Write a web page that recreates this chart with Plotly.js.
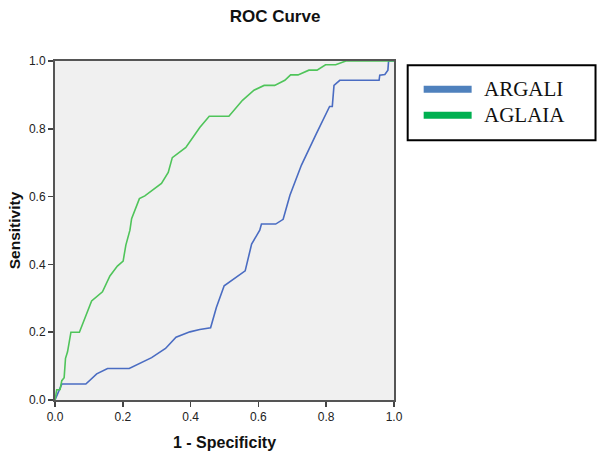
<!DOCTYPE html>
<html>
<head>
<meta charset="utf-8">
<script src="https://cdn.plot.ly/plotly-3.0.1.min.js"></script>
<style>html,body{margin:0;padding:0;background:#fff;}#chart{width:597px;height:451px;}</style>
</head>
<body>
<div id="chart"></div>
<script>
// ARGALI ROC points (1 - Specificity, Sensitivity)
const argaliX = [0, 0.02, 0.091, 0.123, 0.155, 0.219, 0.285, 0.326, 0.357, 0.398, 0.427, 0.459, 0.476, 0.499, 0.561, 0.58, 0.604, 0.609, 0.651, 0.673, 0.693, 0.727, 0.771, 0.81, 0.818, 0.823, 0.84, 0.956, 0.958, 0.973, 0.982, 0.984, 1.0];
const argaliY = [0, 0.047, 0.047, 0.077, 0.093, 0.093, 0.125, 0.152, 0.185, 0.201, 0.208, 0.213, 0.273, 0.337, 0.381, 0.46, 0.501, 0.519, 0.519, 0.533, 0.604, 0.693, 0.786, 0.866, 0.866, 0.928, 0.943, 0.943, 0.958, 0.96, 0.973, 1.0, 1.0];
// AGLAIA ROC points
const aglaiaX = [0, 0.005, 0.015, 0.02, 0.027, 0.031, 0.037, 0.047, 0.072, 0.108, 0.14, 0.162, 0.184, 0.201, 0.209, 0.221, 0.226, 0.249, 0.265, 0.314, 0.334, 0.346, 0.386, 0.427, 0.455, 0.513, 0.553, 0.587, 0.617, 0.648, 0.678, 0.695, 0.717, 0.749, 0.773, 0.798, 0.828, 0.858, 1.0];
const aglaiaY = [0, 0.03, 0.031, 0.057, 0.066, 0.123, 0.142, 0.2, 0.2, 0.292, 0.319, 0.366, 0.395, 0.41, 0.457, 0.501, 0.535, 0.594, 0.602, 0.639, 0.671, 0.715, 0.745, 0.804, 0.837, 0.837, 0.884, 0.914, 0.928, 0.928, 0.943, 0.959, 0.959, 0.973, 0.973, 0.989, 0.989, 1.0, 1.0];
const seriesNames = ['ARGALI', 'AGLAIA'];
const tickVals = [0, 0.2, 0.4, 0.6, 0.8, 1.0];
const tickText = ['0.0', '0.2', '0.4', '0.6', '0.8', '1.0'];

const lineBlue = '#4a6cc2';
const lineGreen = '#4fc45a';
const legBlue = '#4f81bd';
const legGreen = '#00b050';

const traces = [
  {x: argaliX, y: argaliY, type: 'scatter', mode: 'lines', name: seriesNames[0],
   line: {color: lineBlue, width: 1.6}, showlegend: false, cliponaxis: true},
  {x: aglaiaX, y: aglaiaY, type: 'scatter', mode: 'lines', name: seriesNames[1],
   line: {color: lineGreen, width: 1.6}, showlegend: false, cliponaxis: true}
];

// legend drawn in paper coordinates (plot area: x 55..394.3 px, y 61..400 px)
const L = 55, R = 394.3, T = 60.7, B = 400;
const px = v => (v - L) / (R - L);
const py = v => (B - v) / (B - T);

const axisCommon = {
  range: [0, 1], tickvals: tickVals, ticktext: tickText,
  ticks: 'outside', ticklen: 5, tickwidth: 1.5, tickcolor: '#444',
  showline: true, linecolor: '#555', linewidth: 2, mirror: true,
  showgrid: false, zeroline: false, fixedrange: true,
  tickfont: {family: 'Liberation Sans, Arial, sans-serif', size: 12, color: '#222'}
};

const layout = {
  width: 597, height: 451,
  margin: {l: L, r: 597 - R, t: T, b: 451 - B, pad: 0},
  paper_bgcolor: '#ffffff', plot_bgcolor: '#f0f0f0',
  title: {text: '<b>ROC Curve</b>', x: 275 / 597, xref: 'container', xanchor: 'center',
          y: 1 - 16 / 451, yref: 'container', yanchor: 'middle',
          font: {family: 'Liberation Sans, Arial, sans-serif', size: 17, color: '#111'}},
  xaxis: Object.assign({}, axisCommon, {
    title: {text: '<b>1 - Specificity</b>', standoff: 14,
            font: {family: 'Liberation Sans, Arial, sans-serif', size: 16, color: '#111'}}
  }),
  yaxis: Object.assign({}, axisCommon, {
    title: {text: '<b>Sensitivity</b>', standoff: 4,
            font: {family: 'Liberation Sans, Arial, sans-serif', size: 15.5, color: '#111'}}
  }),
  showlegend: false,
  shapes: [
    {type: 'rect', xref: 'paper', yref: 'paper', x0: px(408), x1: px(596), y0: py(65), y1: py(140),
     line: {color: '#000', width: 2}, fillcolor: '#fff', layer: 'above'},
    {type: 'line', xref: 'paper', yref: 'paper', x0: px(424), x1: px(472), y0: py(89), y1: py(89),
     line: {color: legBlue, width: 7}},
    {type: 'line', xref: 'paper', yref: 'paper', x0: px(424), x1: px(472), y0: py(115), y1: py(115),
     line: {color: legGreen, width: 7}}
  ],
  annotations: [
    {text: seriesNames[0], xref: 'paper', yref: 'paper', x: px(482), y: py(89), xanchor: 'left', yanchor: 'middle',
     showarrow: false, font: {family: 'Liberation Serif, Times New Roman, serif', size: 21, color: '#111'}},
    {text: seriesNames[1], xref: 'paper', yref: 'paper', x: px(482), y: py(115), xanchor: 'left', yanchor: 'middle',
     showarrow: false, font: {family: 'Liberation Serif, Times New Roman, serif', size: 21, color: '#111'}}
  ]
};

Plotly.newPlot('chart', traces, layout, {displayModeBar: false, staticPlot: true});
</script>
</body>
</html>
